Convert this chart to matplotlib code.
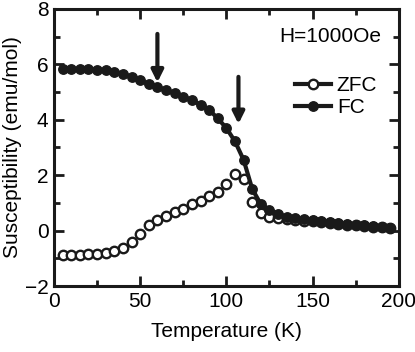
import matplotlib
matplotlib.use("Agg")
import matplotlib.pyplot as plt
from matplotlib.ticker import MultipleLocator
from matplotlib.lines import Line2D

plt.rcParams['font.family'] = ['Liberation Sans', 'DejaVu Sans']

temps = [5, 10, 15, 20, 25, 30, 35, 40, 45, 50, 55, 60, 65, 70, 75, 80, 85, 90, 95, 100,
         105, 110, 115, 120, 125, 130, 135, 140, 145, 150, 155, 160, 165, 170, 175, 180,
         185, 190, 195]
zfc = [-0.89, -0.88, -0.87, -0.86, -0.84, -0.80, -0.72, -0.62, -0.41, -0.12, 0.22, 0.40,
       0.54, 0.66, 0.79, 0.96, 1.06, 1.24, 1.38, 1.69, 2.05, 1.85, 1.05, 0.64, 0.48, 0.44,
       0.42, 0.39, 0.36, 0.33, 0.30, 0.27, 0.24, 0.22, 0.19, 0.17, 0.14, 0.12, 0.10]
fc = [5.82, 5.82, 5.82, 5.82, 5.81, 5.79, 5.74, 5.66, 5.55, 5.42, 5.30, 5.18, 5.07, 4.95,
      4.84, 4.70, 4.55, 4.36, 4.05, 3.70, 3.22, 2.55, 1.50, 0.95, 0.76, 0.60, 0.50, 0.45,
      0.41, 0.37, 0.33, 0.30, 0.27, 0.24, 0.22, 0.19, 0.16, 0.13, 0.10]
arrow_x = [60, 107]
arrow_top = [7.1, 5.55]
arrow_tip = [5.35, 3.85]

fig = plt.figure(figsize=(4.15, 3.52), dpi=100)
ax = fig.add_axes([0.130, 0.1875, 0.831, 0.787])

col = '#1a1a1a'
ax.plot(temps, zfc, '-o', color=col, lw=0, ms=6.8, mfc='white', mec=col, mew=1.7, label='ZFC', zorder=2)
ax.plot(temps, fc, '-o', color=col, lw=3, ms=6.8, mfc=col, mec=col, mew=1.0, label='FC', zorder=3)

for x, t, b in zip(arrow_x, arrow_top, arrow_tip):
    ax.annotate('', xy=(x, b), xytext=(x, t),
                arrowprops=dict(arrowstyle='-|>,head_width=0.35,head_length=0.7',
                                lw=3, color=col, shrinkA=0, shrinkB=0))

ax.set_xlim(0, 200)
ax.set_ylim(-2, 8)
ax.xaxis.set_major_locator(MultipleLocator(50))
ax.xaxis.set_minor_locator(MultipleLocator(25))
ax.yaxis.set_major_locator(MultipleLocator(2))
ax.yaxis.set_minor_locator(MultipleLocator(1))
ax.tick_params(which='both', direction='in', top=True, right=True, width=2, labelsize=15, color=col)
ax.tick_params(which='major', length=7, pad=4)
ax.tick_params(which='minor', length=4)
for s in ax.spines.values():
    s.set_linewidth(2.2)
    s.set_color(col)

ax.set_xlabel('Temperature (K)', fontsize=15, labelpad=8)
ax.set_ylabel('Susceptibility (emu/mol)', fontsize=15, labelpad=2)

ax.text(190, 7.0, 'H=1000Oe', fontsize=15, ha='right', va='center')

hz = Line2D([], [], color=col, lw=3, marker='o', ms=6.8, mfc='white', mec=col, mew=1.7)
hf = Line2D([], [], color=col, lw=3, marker='o', ms=6.8, mfc=col, mec=col)
ax.legend([hz, hf], ['ZFC', 'FC'], loc='upper right', bbox_to_anchor=(0.98, 0.81),
          frameon=False, fontsize=15, handlelength=1.7, handletextpad=0.3,
          labelspacing=0.15, borderpad=0.2)

fig.savefig('out.png', dpi=100)
